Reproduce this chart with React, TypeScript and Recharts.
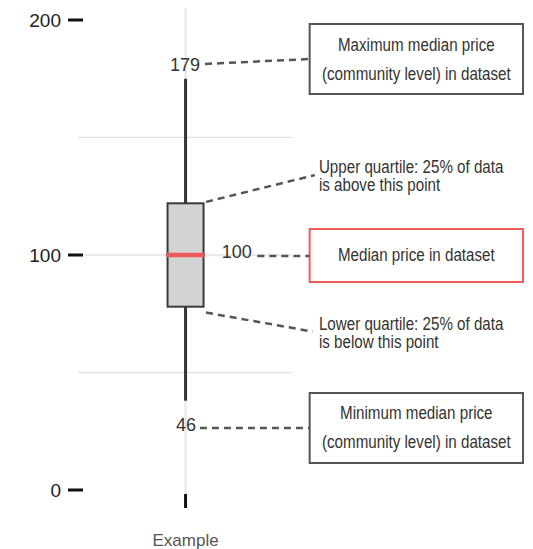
import React from "react";
import {
  ComposedChart,
  Bar,
  XAxis,
  YAxis,
  ReferenceLine,
  ReferenceArea,
  ReferenceDot,
} from "recharts";

// --- data ---
const categories = ["Example"];
const minValues = [38];
const q1Values = [78];
const medianValues = [100];
const q3Values = [122];
const maxValues = [175];

const yTicks = [0, 100, 200];
const gridValues = [50, 100, 150];

// callout texts
const valueLabels = ["179", "100", "46"];
const noteMax = ["Maximum median price", "(community level) in dataset"];
const noteUpper = ["Upper quartile: 25% of data", "is above this point"];
const noteMedian = ["Median price in dataset"];
const noteLower = ["Lower quartile: 25% of data", "is below this point"];
const noteMin = ["Minimum median price", "(community level) in dataset"];

const table = categories.map((name, i) => ({
  pos: i + 1,
  name,
  base: minValues[i],
  lowWhisker: q1Values[i] - minValues[i],
  lowBox: medianValues[i] - q1Values[i],
  highBox: q3Values[i] - medianValues[i],
  highWhisker: maxValues[i] - q3Values[i],
}));

// --- layout (chart units: x = slot, y = value) ---
const SANS = "'Liberation Sans', Arial, sans-serif";
const INK = "#333";
const DASH = "#555";
const RED = "#ef5b5b";

const BOX_X1 = 2.21;
const BOX_X2 = 4.29;

const calloutBoxes = [
  { lines: noteMax, y1: 168.5, y2: 198.3, stroke: DASH },
  { lines: noteMedian, y1: 88.5, y2: 111.1, stroke: RED },
  { lines: noteMin, y1: 11.5, y2: 41.3, stroke: DASH },
];

const leaders = [
  [{ x: 1.19, y: 181.3 }, { x: 2.21, y: 183.4 }],
  [{ x: 1.2, y: 122.6 }, { x: 2.26, y: 134 }],
  [{ x: 1.7, y: 99.6 }, { x: 2.21, y: 99.6 }],
  [{ x: 1.2, y: 75.5 }, { x: 2.24, y: 67.4 }],
  [{ x: 1.14, y: 26.4 }, { x: 2.21, y: 26.4 }],
];

const numberLabels = [
  { text: valueLabels[0], x: 1.141, y: 180.9, anchor: "end" },
  { text: valueLabels[1], x: 1.352, y: 101.4, anchor: "start" },
  { text: valueLabels[2], x: 1.102, y: 27.7, anchor: "end" },
];

const sideNotes = [
  { lines: noteUpper, x: 2.3, y: 133.8 },
  { lines: noteLower, x: 2.3, y: 66.7 },
];

// narrow text is faked with a horizontal squeeze
function textBlock(lines: string[], anchor: string, size: number, lh: number, squeeze = 1) {
  return (p: any) => (
    <g>
      {lines.map((l, i) => (
        <text
          key={i}
          transform={`translate(${p.cx},${p.cy + (i - (lines.length - 1) / 2) * lh}) scale(${squeeze},1)`}
          x={0}
          y={0}
          textAnchor={anchor}
          dominantBaseline="central"
          fontSize={size}
          fontFamily={SANS}
          fill={INK}
        >
          {l}
        </text>
      ))}
    </g>
  );
}

const Whisker = (p: any) => (
  <line
    x1={p.x + p.width / 2}
    x2={p.x + p.width / 2}
    y1={p.y}
    y2={p.y + p.height}
    stroke="#333"
    strokeWidth={3}
  />
);

const BoxPart = (p: any) => (
  <rect x={p.x} y={p.y} width={p.width} height={p.height} fill="#d3d3d3" stroke="#3a3a3a" strokeWidth={2} />
);

const UpperBox = (p: any) => (
  <g>
    <rect x={p.x} y={p.y} width={p.width} height={p.height} fill="#d3d3d3" stroke="#3a3a3a" strokeWidth={2} />
    <line x1={p.x - 1} x2={p.x + p.width + 1} y1={p.y + p.height} y2={p.y + p.height} stroke={RED} strokeWidth={4.5} />
  </g>
);

const XTick = (p: any) => (
  <g>
    <line x1={p.x} x2={p.x} y1={p.y + 4} y2={p.y + 18} stroke="#111" strokeWidth={3} />
    <text x={p.x} y={p.y + 50} textAnchor="middle" dominantBaseline="central" fontSize={17} fontFamily={SANS} fill="#555">
      {categories[0]}
    </text>
  </g>
);

export default function App() {
  return (
    <div style={{ position: "absolute", left: 0, top: 0, background: "#fff" }}>
      <ComposedChart
        width={533}
        height={549}
        data={table}
        margin={{ top: 20, right: 9, left: 0, bottom: 0 }}
        style={{ fontFamily: SANS }}
      >
        <XAxis
          dataKey="pos"
          type="number"
          domain={[0, 4.3]}
          ticks={[1]}
          allowDataOverflow
          axisLine={false}
          tickLine={false}
          tickSize={0}
          tickMargin={0}
          height={59}
          tick={<XTick />}
        />
        <YAxis
          type="number"
          domain={[0, 200]}
          ticks={yTicks}
          width={83}
          axisLine={false}
          tickSize={15}
          tickMargin={7}
          tickLine={{ stroke: "#111", strokeWidth: 3 }}
          tick={{ fontSize: 19, fill: "#222", fontFamily: SANS }}
        />

        <ReferenceLine
          segment={[{ x: 1, y: -2.1 }, { x: 1, y: 205.1 }]}
          stroke="#e6e6e6"
          strokeWidth={2}
          ifOverflow="visible"
          zIndex={-10}
        />
        {gridValues.map((v) => (
          <ReferenceLine
            key={v}
            segment={[{ x: -0.049, y: v }, { x: 2.035, y: v }]}
            stroke="#e3e3e3"
            strokeWidth={1.5}
            ifOverflow="visible"
            zIndex={-10}
          />
        ))}

        <Bar dataKey="base" stackId="box" barSize={36} fill="none" shape={() => <g />} isAnimationActive={false} />
        <Bar dataKey="lowWhisker" stackId="box" barSize={36} shape={Whisker} isAnimationActive={false} />
        <Bar dataKey="lowBox" stackId="box" barSize={36} shape={BoxPart} isAnimationActive={false} />
        <Bar dataKey="highBox" stackId="box" barSize={36} shape={UpperBox} isAnimationActive={false} />
        <Bar dataKey="highWhisker" stackId="box" barSize={36} shape={Whisker} isAnimationActive={false} />

        {leaders.map((seg, i) => (
          <ReferenceLine
            key={"l" + i}
            segment={seg}
            stroke={DASH}
            strokeWidth={2.5}
            strokeDasharray="7 5"
            ifOverflow="visible"
          />
        ))}

        {calloutBoxes.map((b, i) => (
          <ReferenceArea
            key={"b" + i}
            x1={BOX_X1}
            x2={BOX_X2}
            y1={b.y1}
            y2={b.y2}
            fill="#fff"
            fillOpacity={1}
            stroke={b.stroke}
            strokeWidth={2}
            ifOverflow="visible"
          />
        ))}
        {calloutBoxes.map((b, i) => (
          <ReferenceDot
            key={"bt" + i}
            x={(BOX_X1 + BOX_X2) / 2}
            y={(b.y1 + b.y2) / 2}
            r={0}
            ifOverflow="visible"
            shape={textBlock(b.lines, "middle", 18.5, 29, 0.82)}
          />
        ))}
        {sideNotes.map((n, i) => (
          <ReferenceDot
            key={"n" + i}
            x={n.x}
            y={n.y}
            r={0}
            ifOverflow="visible"
            shape={textBlock(n.lines, "start", 18.5, 18, 0.82)}
          />
        ))}
        {numberLabels.map((n, i) => (
          <ReferenceDot
            key={"v" + i}
            x={n.x}
            y={n.y}
            r={0}
            ifOverflow="visible"
            shape={textBlock([n.text], n.anchor, 18, 0)}
          />
        ))}
      </ComposedChart>
    </div>
  );
}
